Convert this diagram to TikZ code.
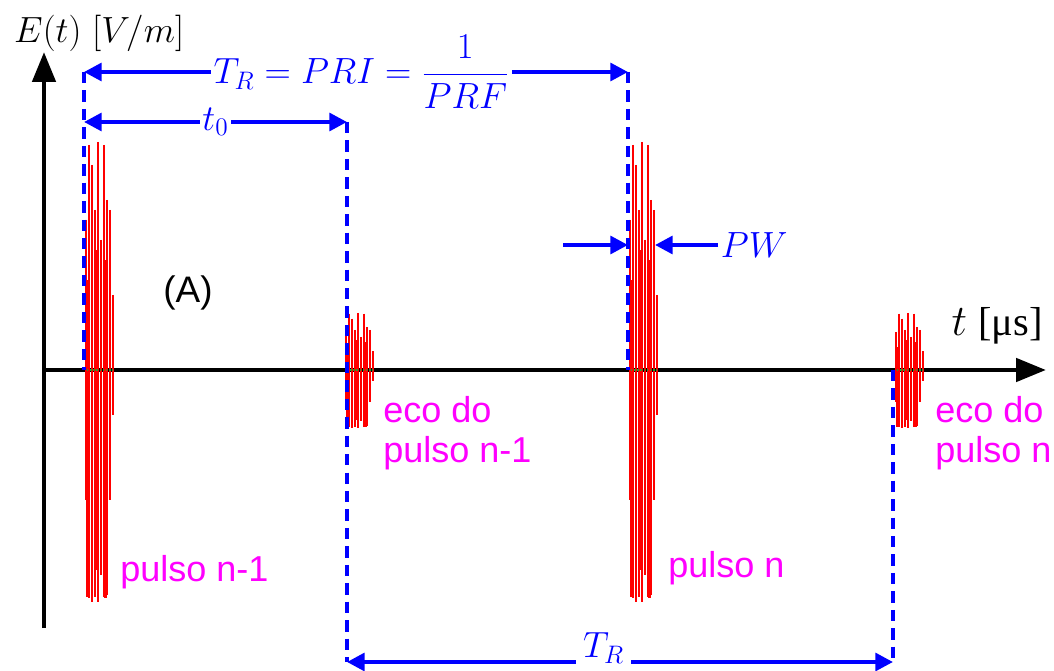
\documentclass[tikz,border=0pt]{standalone}
\usepackage[no-math]{fontspec}
\setmainfont{Liberation Sans}
\newfontfamily\grkserif{Liberation Serif}
\definecolor{rdBlue}{HTML}{0000FF}
\definecolor{rdMagenta}{HTML}{FF00FF}
\definecolor{rdRed}{HTML}{FF0000}
\definecolor{rdGreen}{HTML}{2E9A2E}
\usetikzlibrary{arrows.meta}

\begin{document}
\begin{tikzpicture}[x=0.02cm,y=-0.02cm,
  axis/.style={line width=2.8pt,black,-{Triangle[length=17pt,width=13pt]}},
  guide/.style={rdBlue,line width=2.1pt,dash pattern=on 6.5pt off 4pt},
  span/.style={rdBlue,line width=2.3pt,{Triangle[length=10pt,width=10pt]}-{Triangle[length=10pt,width=10pt]}},
  tip/.style={rdBlue,line width=2.3pt,-{Triangle[length=10pt,width=10pt]}},
  burst/.style={rdRed,line width=1.4pt},
  mathlbl/.style={text=rdBlue,font=\fontsize{20}{24}\selectfont,inner sep=1.5pt},
  tag/.style={text=rdMagenta,font=\fontsize{20.5}{22.7}\selectfont,align=left,inner sep=0pt}]
\useasboundingbox (0,0) rectangle (1054,671);
% axes
\coordinate (O) at (44,370);
\coordinate (ytop) at (44,52);
\coordinate (ybot) at (44,628);
\coordinate (xend) at (1046,370);
\draw[axis] (ybot) -- (ytop);
\draw[axis] (O) -- (xend);
\node[font=\fontsize{22}{26}\selectfont,anchor=west] (ylab) at (8,33) {$E(t)\ [V/m]$};
\node[font=\fontsize{23}{27}\selectfont] (xlab) at (997,326) {$t$ {\grkserif [μs]}};
% pulses and echoes: offset dx / height above / depth below
\def\bars{0/150/130, 1.5/90/227, 3/225/228, 6/205/232, 9/160/227, 10.5/120/200,
  12/228/232, 15/130/205, 18/225/227, 19.5/110/228, 21/170/225, 24/160/130, 27/75/45}
\foreach \px/\sc in {86/1, 346/0.25, 630/1, 896/0.25}{
  \foreach \dx/\up/\dn in \bars
    \draw[burst] ({\px+\dx},{370-\sc*\up}) -- ({\px+\dx},{370+\sc*\dn});
  \draw[rdGreen,line width=0.8pt,densely dotted] ({\px+1},370) -- ({\px+27},370);
}
% guides
\coordinate (p1top) at (84,72);
\coordinate (p1ax) at (84,370);
\coordinate (t0a) at (84,122);
\coordinate (e1top) at (347,122);
\coordinate (e1bot) at (347,662);
\coordinate (p2top) at (628,72);
\coordinate (p2ax) at (628,370);
\coordinate (e2ax) at (893,370);
\coordinate (e2bot) at (893,662);
\draw[guide] (p1top) -- (p1ax);
\draw[guide] (e1top) -- (e1bot);
\draw[guide] (p2top) -- (p2ax);
\draw[guide] (e2ax) -- (e2bot);
% spans
\draw[span] (p1top) -- node[mathlbl,fill=white,pos=0.51] (prilab)
  {$\displaystyle T_R = PRI = \frac{1}{PRF}$} (p2top);
\draw[span] (t0a) -- node[mathlbl,fill=white] (t0lab) {$t_0$} (e1top);
\draw[span] (e1bot) -- node[mathlbl,fill=white,pos=0.47,anchor=base,yshift=2.5pt,
  inner xsep=4pt,inner ysep=3pt] (trlab) {$T_R$} (e2bot);
% pulse width
\coordinate (pwl) at (563,245);
\coordinate (pwa) at (628,245);
\coordinate (pwb) at (655,245);
\coordinate (pwr) at (718,245);
\draw[tip] (pwl) -- (pwa);
\draw[tip] (pwr) -- (pwb);
\node[mathlbl,anchor=west] (pwlab) at (pwr) {$PW$};
% labels
\node[font=\fontsize{21}{24}\selectfont] (alab) at (188,293) {(A)};
\node[tag,anchor=west] (p1lab) at (120,572) {pulso n-1};
\node[tag,anchor=west] (e1lab) at (383,433) {eco do\\pulso n-1};
\node[tag,anchor=west] (p2lab) at (668,568) {pulso n};
\node[tag,anchor=west] (e2lab) at (935,433) {eco do\\pulso n};
\end{tikzpicture}
\end{document}
